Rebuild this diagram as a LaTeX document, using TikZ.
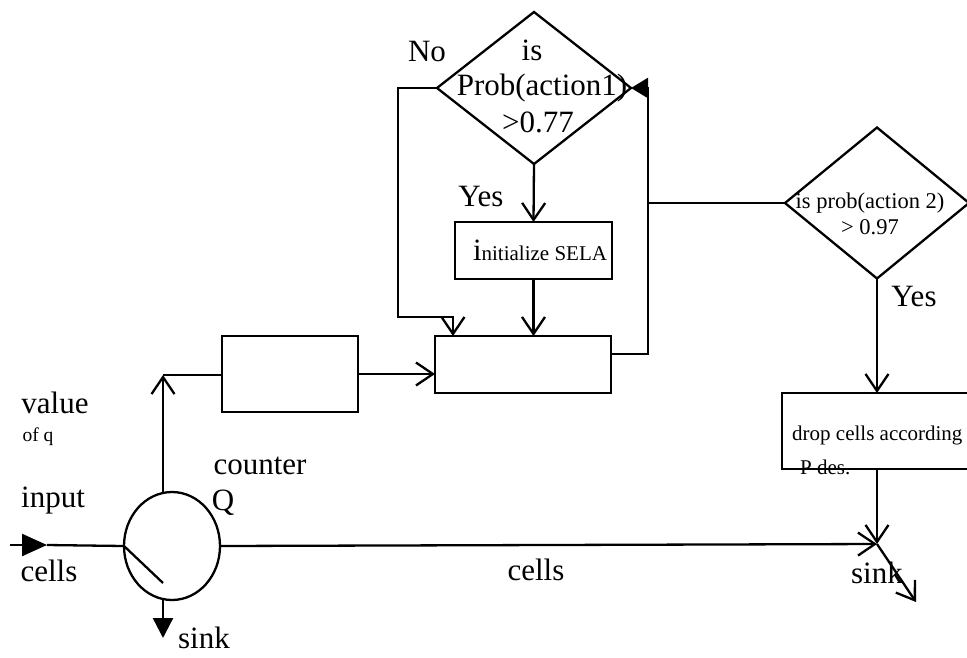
\documentclass[tikz,border=0pt]{standalone}
\usepackage{fontspec}
\setmainfont{Liberation Serif}
\usetikzlibrary{arrows.meta,shapes.geometric,calc}
\tikzset{
  ln/.style={line width=2.3pt},
  oarrow/.style={ln,-{Straight Barb[length=17pt,width=23pt,line width=2.3pt]}},
  farrow/.style={ln,-{Triangle[length=22pt,width=21pt]}},
  boxx/.style={draw,ln,rectangle,inner sep=0pt,outer sep=0pt},
  dia/.style={draw,ln,diamond,inner sep=0pt,outer sep=0pt},
  big/.style={font=\fontsize{31}{33}\selectfont,inner sep=0pt},
  mid/.style={font=\fontsize{22.5}{27}\selectfont,inner sep=0pt},
  sml/.style={font=\fontsize{21}{24}\selectfont,inner sep=0pt},
}
\begin{document}
\begin{tikzpicture}[x=1pt,y=-1pt]
\clip (0,0) rectangle (967,657);
\fill[white] (0,0) rectangle (967,657);
% shapes
\node[dia,minimum width=194pt,minimum height=152pt] (d1) at (534,88) {};
\node[dia,minimum width=184pt,minimum height=151pt] (d2) at (877,203) {};
\node[boxx,minimum width=157pt,minimum height=57pt] (init) at (533.5,250.5) {};
\node[boxx,minimum width=176pt,minimum height=57pt] (bigb) at (523,364.5) {};
\node[boxx,minimum width=136pt,minimum height=76pt] (sb) at (290,374) {};
\node[boxx,minimum width=240pt,minimum height=76pt] (drop) at (902,431) {};
\node[draw,ln,ellipse,minimum width=96pt,minimum height=108pt,inner sep=0pt,outer sep=0pt] (ctr) at (172,546) {};
% coordinates
\coordinate (r1) at (648,354);
\coordinate (nb) at (398,317);
\coordinate (nb2) at (453,317);
\coordinate (inS) at (10,545);
\coordinate (inT) at (47,545);
\coordinate (sw) at (163,583);
\coordinate (upB) at (163,493);
\coordinate (upT) at (163,375);
\coordinate (dnB) at (163,599);
\coordinate (dnT) at (163,638);
\coordinate (jn) at (877,544);
\coordinate (sk) at (916,602);
% texts
\node[big] (tis) at (532,50) {is};
\node[big] (tprob) at (542,88) {Prob(action1)};
\node[big] (tgt) at (538,122) {>0.77};
\node[big] (tno) at (427,51) {No};
\node[big] (tyes1) at (481,196) {Yes};
\node[sml] (tinit) at (540,250) {{\fontsize{31}{33}\selectfont i}nitialize SELA};
\node[mid] (tp2) at (870,203) {is prob(action 2)};
\node[mid] (tp2b) at (870,227) {> 0.97};
\node[big] (tyes2) at (914,296) {Yes};
\node[sml,anchor=west] (tdrop) at (792,435) {drop cells according};
\node[sml,anchor=west] (tpdes) at (800,467) {P des.};
\node[big] (tvalue) at (55,403) {value};
\node[font=\fontsize{19.5}{22}\selectfont,inner sep=0pt] (tofq) at (38,437) {of q};
\node[big] (tcounter) at (260,466) {counter};
\node[big] (tQ) at (223,503) {Q};
\node[big] (tinput) at (53,501) {input};
\node[big] (tcells1) at (49,571) {cells};
\node[big] (tcells2) at (536,570) {cells};
\node[big] (tsink1) at (204,638) {sink};
\node[big] (tsink2) at (877,573) {sink};
% connectors
\draw[oarrow] (d1.south) -- (init.north);
\draw[oarrow] (init.south) -- (init.south |- bigb.north);
\draw[oarrow] (d1.west) -| (nb) -| (nb2 |- bigb.north);
\draw[ln] (bigb.east |- r1) -- (r1) -- (r1 |- d2.west) -- (d2.west);
\draw[ln,-{Triangle[length=17pt,width=20pt]}] (r1 |- d2.west) -- (r1 |- d1.east) -- (d1.east);
\draw[oarrow] (sb.east) -- (sb.east -| bigb.west);
\draw[oarrow] (d2.south) -- (d2.south |- drop.north);
\draw[oarrow] (d2.south |- drop.south) -- (jn);
\draw[oarrow] (ctr.east) -- (jn);
\draw[oarrow] (jn) -- (sk);
\draw[farrow,-{Triangle[length=25pt,width=22pt]}] (inS) -- (inT);
\draw[ln] (inT) -- (ctr.west);
\draw[ln] (ctr.west) -- (sw);
\draw[oarrow] (upB) -- (upT);
\draw[ln] (upT) -- (upT -| sb.west);
\draw[farrow,-{Triangle[length=20pt,width=20pt]}] (dnB) -- (dnT);
\end{tikzpicture}
\end{document}
